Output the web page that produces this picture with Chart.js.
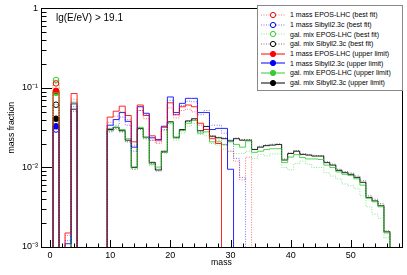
<!DOCTYPE html>
<html lang="en">
<head>
  <meta charset="UTF-8" />
  <title>mass fraction, lg(E/eV) &gt; 19.1</title>
  <script src="https://cdn.jsdelivr.net/npm/chart.js"></script>
  <style>
    * { box-sizing: border-box; margin: 0; padding: 0; }
    body { width: 407px; height: 275px; background: #fff; position: relative; overflow: hidden;
           font-family: "Liberation Sans", Arial, sans-serif; }
    #wrap { position: absolute; left: 0; top: 0; width: 407px; height: 275px; }
    .energy { position: absolute; left: 56px; top: 12px; font-size: 10px; line-height: 12px; color: #000; }
    .legend { position: absolute; left: 257px; top: 5px; width: 146px; height: 86px;
              border: 1px solid #888; background: #fff; padding-top: 4px; }
    .legend-row { display: flex; align-items: center; height: 9.7px; font-size: 7px; color: #000; }
    .legend-row svg { margin-left: 3px; margin-right: 5px; flex: none; }
  </style>
</head>
<body>
  <div id="wrap"><canvas id="chart" width="407" height="275"></canvas></div>
  <div class="energy">lg(E/eV) &gt; 19.1</div>
  <div class="legend" id="legend"></div>

  <script>
    // mass numbers (one bin per mass, width 1)
    const mass = [1,2,3,4,5,6,7,8,9,10,11,12,13,14,15,16,17,18,19,20,21,22,23,24,25,26,27,28,29,
                  30,31,32,33,34,35,36,37,38,39,40,41,42,43,44,45,46,47,48,49,50,51,52,53,54,55,56,57];

    // best fit (dotted)
    const epos1Best = [0.114,0,0.0014,0.072,0,0,0,0,0,
      0.037,0.044,0.050,0.040,0.019,0.052,0.041,0.022,0.020,0.029,0.056,0.042,0.052,0.054,0.050,0.034,
      0.030,0.024,0.022,0.019,0.016,0.012,0.007,0.0135,0,0,0,0,0,0,0,0,0,0,0,0,0,0,0,0,0,0,0,0,0,0,0,0];
    const sib1Best = [0.030,0,0.0012,0.058,0,0,0,0,0,
      0.029,0.034,0.043,0.034,0.016,0.052,0.046,0.022,0.021,0.030,0.070,0.046,0.060,0.068,0.067,0.046,
      0.052,0.034,0.034,0.027,0.022,0.013,0.0075,0,0,0,0,0,0,0,0,0,0,0,0,0,0,0,0,0,0,0,0,0,0,0,0,0];
    const eposMixBest = [0.126,0,0,0.064,0,0,0,0,0,
      0.029,0.030,0.028,0.021,0.0096,0.030,0.023,0.0105,0.0097,0.015,0.035,0.022,0.027,0.033,0.036,0.026,
      0.025,0.020,0.019,0.017,0.016,0.015,0.015,0.016,0.013,0.0145,0.0140,0.0148,0.0148,0.0100,0.0093,
      0.0112,0.0120,0.0110,0.0100,0.0100,0.0086,0.0078,0.0072,0.0062,0.0059,0.0054,0.0044,0.0032,
      0.0026,0.0023,0.0013,0];
    const sibMixBest = [0.0615,0,0,0.051,0,0,0,0,0,
      0.028,0.031,0.028,0.021,0.0095,0.030,0.023,0.0112,0.0090,0.0155,0.036,0.0235,0.0295,0.038,0.040,
      0.028,0.033,0.025,0.024,0.0235,0.022,0.0235,0.0225,0.0225,0.017,0.0185,0.0192,0.0196,0.0198,
      0.0128,0.0152,0.0163,0.0149,0.0146,0.0142,0.0141,0.0118,0.0110,0.0095,0.0089,0.0085,0.0078,
      0.0068,0.0044,0.0040,0.0035,0.0016,0];

    // upper limit (solid)
    const epos1Upper = [0.092,0,0.0015,0.085,0,0,0,0,0,
      0.043,0.051,0.059,0.045,0.021,0.061,0.045,0.025,0.022,0.032,0.065,0.046,0.058,0.061,0.058,0.036,
      0.030,0.023,0.020,0,0,0,0,0,0,0,0,0,0,0,0,0,0,0,0,0,0,0,0,0,0,0,0,0,0,0,0,0];
    const sib1Upper = [0.033,0,0.0011,0.063,0,0,0,0,0,
      0.034,0.040,0.049,0.038,0.018,0.058,0.048,0.0236,0.0225,0.033,0.077,0.049,0.064,0.074,0.074,0.049,
      0.049,0.030,0.031,0.031,0.0095,0,0,0,0,0,0,0,0,0,0,0,0,0,0,0,0,0,0,0,0,0,0,0,0,0,0,0];
    const eposMixUpper = [0.087,0,0,0.066,0,0,0,0,0,
      0.031,0.032,0.030,0.023,0.0102,0.032,0.024,0.011,0.0101,0.0155,0.037,0.0235,0.029,0.036,0.039,
      0.027,0.028,0.021,0.021,0.0195,0.021,0.0195,0.018,0.0215,0.0155,0.016,0.0168,0.0172,0.0172,
      0.0115,0.0135,0.0145,0.0133,0.0128,0.0128,0.0126,0.0107,0.0100,0.0088,0.0082,0.0079,0.0072,
      0.0060,0.0041,0.0037,0.0032,0.0015,0];
    const sibMixUpper = [0.041,0,0,0.054,0,0,0,0,0,
      0.030,0.032,0.029,0.022,0.0100,0.031,0.024,0.0116,0.0093,0.016,0.0376,0.024,0.030,0.0385,0.041,
      0.029,0.0327,0.0247,0.0236,0.023,0.0215,0.023,0.022,0.022,0.0168,0.018,0.0188,0.0191,0.0194,
      0.0124,0.0150,0.0160,0.0146,0.0143,0.0139,0.0139,0.0115,0.0107,0.0092,0.0086,0.0082,0.0075,
      0.0065,0.0042,0.0038,0.0033,0.00155,0];

    const legendLabels = [
      '1 mass EPOS-LHC (best fit)', '1 mass Sibyll2.3c (best fit)',
      'gal. mix EPOS-LHC (best fit)', 'gal. mix Sibyll2.3c (best fit)',
      '1 mass EPOS-LHC (upper limit)', '1 mass Sibyll2.3c (upper limit)',
      'gal. mix EPOS-LHC (upper limit)', 'gal. mix Sibyll2.3c (upper limit)'
    ];
    const series = [epos1Best, sib1Best, eposMixBest, sibMixBest, epos1Upper, sib1Upper, eposMixUpper, sibMixUpper];
    const colors = ['#ff0000', '#0000ff', '#33cc33', '#000000', '#ff0000', '#0000ff', '#33cc33', '#000000'];
    const dotted = [true, true, true, true, false, false, false, false];

    const xTickLabels = [0, 10, 20, 30, 40, 50];
    const yTickValues = [0.001, 0.01, 0.1, 1];
    const yTickLabels = ['10\u207B\u00B3', '10\u207B\u00B2', '10\u207B\u00B9', '1'];

    const FLOOR = 1e-5; // empty bins fall below the axis

    function histPoints(vals) {
      const pts = [{ x: mass[0] - 0.5, y: FLOOR }];
      mass.forEach((m, i) => pts.push({ x: m - 0.5, y: vals[i] > 0 ? vals[i] : FLOOR }));
      pts.push({ x: mass[mass.length - 1] + 0.5, y: FLOOR });
      return pts;
    }

    const fade = (hex, a) => {
      const n = parseInt(hex.slice(1), 16);
      return `rgba(${n >> 16},${(n >> 8) & 255},${n & 255},${a})`;
    };

    const datasets = [];
    series.forEach((vals, i) => {
      datasets.push({
        type: 'line',
        data: histPoints(vals),
        stepped: 'before',
        borderColor: dotted[i] ? fade(colors[i], 0.55) : fade(colors[i], 0.85),
        borderWidth: 1,
        borderDash: dotted[i] ? [1, 1.5] : [],
        pointRadius: 0,
        fill: false
      });
    });
    // markers at mass 1
    series.forEach((vals, i) => {
      datasets.push({
        type: 'scatter',
        data: [{ x: mass[0], y: vals[0] }],
        pointRadius: 2.8,
        pointBorderWidth: 1,
        pointBorderColor: colors[i],
        pointBackgroundColor: dotted[i] ? 'rgba(0,0,0,0)' : colors[i]
      });
    });

    // frame + ROOT style ticks drawn inside the frame
    const framePlugin = {
      id: 'frame',
      afterDatasetsDraw(chart) {
        const { ctx, chartArea: a, scales: { x, y } } = chart;
        ctx.save();
        ctx.strokeStyle = '#000';
        ctx.lineWidth = 1;
        ctx.beginPath();
        for (let v = 0; v <= 58; v += 2) {
          const px = Math.round(x.getPixelForValue(v)) + 0.5;
          const len = v % 10 === 0 ? 7 : 3.5;
          ctx.moveTo(px, a.bottom);
          ctx.lineTo(px, a.bottom - len);
        }
        for (let d = -3; d < 0; d++) {
          for (let k = 1; k <= 9; k++) {
            const v = k * Math.pow(10, d);
            const py = Math.round(y.getPixelForValue(v)) + 0.5;
            const len = k === 1 ? 11 : 5.5;
            ctx.moveTo(a.left, py);
            ctx.lineTo(a.left + len, py);
          }
        }
        ctx.stroke();
        ctx.strokeRect(Math.round(a.left) + 0.5, Math.round(a.top) + 0.5,
                       Math.round(a.right - a.left), Math.round(a.bottom - a.top));
        ctx.restore();
      }
    };

    new Chart(document.getElementById('chart'), {
      data: { datasets },
      options: {
        responsive: false,
        animation: false,
        layout: { padding: { top: 5, right: 4, left: 0, bottom: 0 } },
        plugins: { legend: { display: false }, tooltip: { enabled: false } },
        scales: {
          x: {
            type: 'linear', min: -1.5, max: 58.5,
            afterBuildTicks: (s) => { s.ticks = xTickLabels.map(v => ({ value: v })); },
            afterFit: (s) => { s.height = 28; },
            grid: { display: false, drawTicks: false },
            border: { display: false },
            ticks: { color: '#000', padding: 3, font: { size: 9, family: '"Liberation Sans", Arial' } },
            title: { display: true, text: 'mass', color: '#000', padding: { top: 0, bottom: 7 },
                     font: { size: 8.7, family: '"Liberation Sans", Arial' } }
          },
          y: {
            type: 'logarithmic', min: 0.001, max: 1,
            afterBuildTicks: (s) => { s.ticks = yTickValues.map(v => ({ value: v })); },
            afterFit: (s) => { s.width = 41; },
            grid: { display: false, drawTicks: false },
            border: { display: false },
            ticks: {
              color: '#000', padding: 3, font: { size: 9, family: '"Liberation Sans", Arial' },
              callback: (v) => yTickLabels[yTickValues.indexOf(v)]
            },
            title: { display: true, text: 'mass fraction', color: '#000', padding: { top: 6.5, bottom: 0 },
                     font: { size: 8.7, family: '"Liberation Sans", Arial' } }
          }
        }
      },
      plugins: [framePlugin]
    });

    // legend: line + marker symbol, text
    const legend = document.getElementById('legend');
    legendLabels.forEach((label, i) => {
      const row = document.createElement('div');
      row.className = 'legend-row';
      const dash = dotted[i] ? 'stroke-dasharray="1,1.5"' : '';
      const lineColor = dotted[i] ? fade(colors[i], 0.55) : colors[i];
      row.innerHTML =
        `<svg width="24" height="8" viewBox="0 0 24 8">` +
        `<line x1="0" y1="4" x2="24" y2="4" stroke="${lineColor}" stroke-width="1" ${dash}/>` +
        `<circle cx="12" cy="4" r="2.6" fill="${dotted[i] ? '#fff' : colors[i]}" stroke="${colors[i]}" stroke-width="1"/>` +
        `</svg><span>${label}</span>`;
      legend.appendChild(row);
    });
  </script>
</body>
</html>
